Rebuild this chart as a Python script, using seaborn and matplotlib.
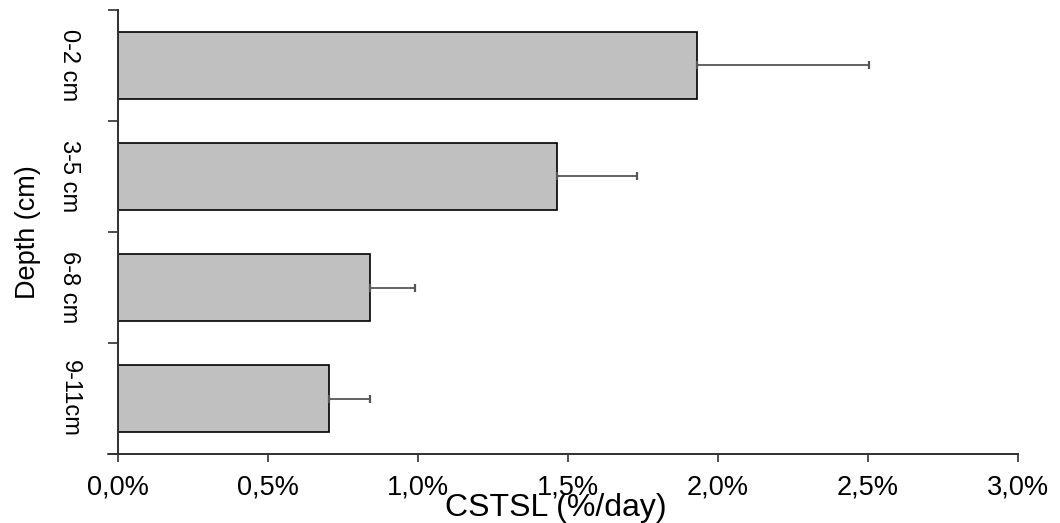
import numpy as np
import pandas as pd
import matplotlib
matplotlib.use("Agg")
import matplotlib.pyplot as plt
import seaborn as sns
from matplotlib.ticker import FuncFormatter

# data (percent per day)
depths = ["0-2 cm", "3-5 cm", "6-8 cm", "9-11cm"]
cstsl = [1.93, 1.465, 0.84, 0.705]
err_up = [0.575, 0.265, 0.15, 0.135]
x_ticks = [0.0, 0.5, 1.0, 1.5, 2.0, 2.5, 3.0]

df = pd.DataFrame({"depth": depths, "cstsl": cstsl})

sns.set_style("white")
plt.rcParams['font.family'] = ['Liberation Sans', 'DejaVu Sans']
plt.rcParams.update({"text.color": "black", "axes.labelcolor": "black",
                     "xtick.color": "black", "ytick.color": "black"})

fig = plt.figure(figsize=(10.6, 5.23), dpi=100)
ax = fig.add_axes([0.1113, 0.1319, 0.849, 0.8490])

sns.barplot(data=df, x="cstsl", y="depth", orient="h", color="#c0c0c0",
            saturation=1, width=0.61, edgecolor="black", linewidth=1.2,
            errorbar=None, ax=ax)

# one-sided error bars
pos = np.arange(len(depths))
ax.errorbar(cstsl, pos, xerr=[np.zeros(len(err_up)), err_up], fmt="none",
            ecolor="#555555", elinewidth=1.3, capsize=3.2, capthick=1.6)

ax.set_xlim(0, 3.0)
ax.set_ylim(3.5, -0.5)
ax.set_xticks(x_ticks)
ax.xaxis.set_major_formatter(FuncFormatter(lambda v, p: f"{v:.1f}%".replace(".", ",")))
ax.set_yticks(pos - 0.5)
ax.set_yticks(pos, minor=True)
ax.set_yticklabels([])
ax.set_yticklabels(depths, minor=True, rotation=270, va="center", fontsize=17)

ax.tick_params(axis="x", which="major", direction="out", length=6, width=1.2,
               color="#303030", labelsize=19.5, labelcolor="black", pad=9,
               bottom=True)
ax.tick_params(axis="y", which="major", direction="out", length=7, width=1.2,
               color="#303030", left=True)
ax.tick_params(axis="y", which="minor", length=0, pad=27, labelcolor="black")

sns.despine(ax=ax)
for s in ["left", "bottom"]:
    ax.spines[s].set_color("#303030")
    ax.spines[s].set_linewidth(1.4)
# x axis line runs a little past the y axis, as in the original
ax.plot([-0.011, 0], [0, 0], transform=ax.transAxes, color="#303030",
        lw=1.4, clip_on=False)

ax.set_xlabel("CSTSL (%/day)", fontsize=23, color="black")
ax.set_ylabel("Depth (cm)", fontsize=19.5, color="black")
ax.xaxis.set_label_coords(0.487, -0.122)
ax.xaxis.label.set_va("center")
ax.yaxis.set_label_coords(-0.1, 0.5)
ax.yaxis.label.set_va("center")

fig.savefig("out.png", dpi=100)
